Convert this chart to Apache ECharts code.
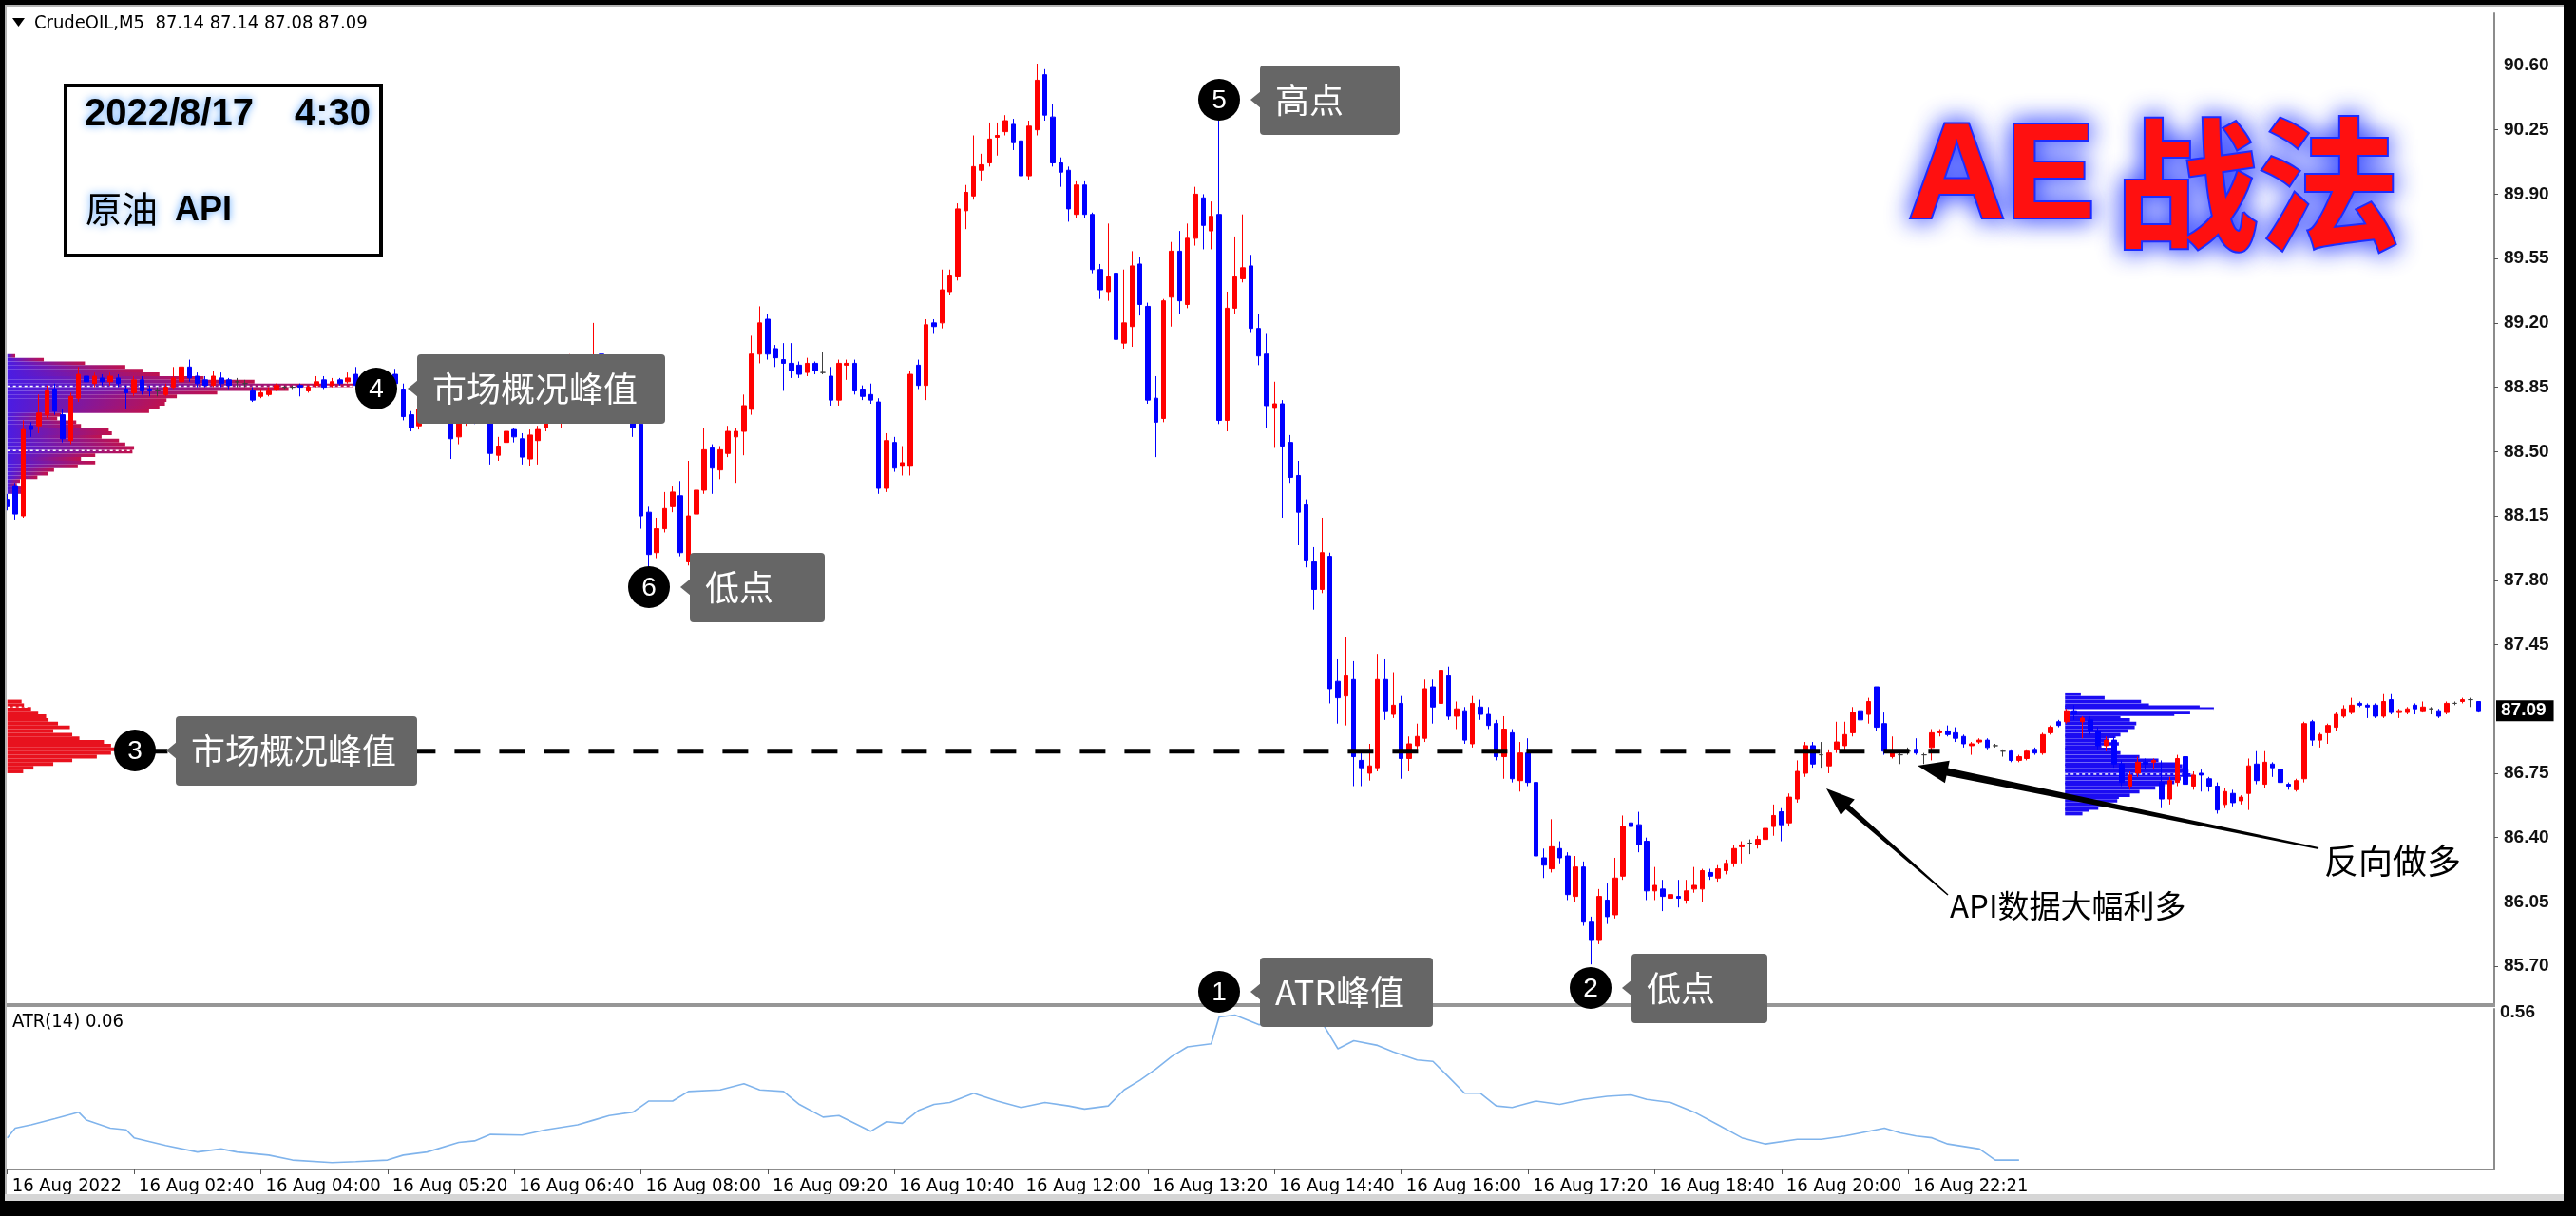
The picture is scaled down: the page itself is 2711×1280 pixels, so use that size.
<!DOCTYPE html>
<html><head><meta charset="utf-8">
<script src="https://cdn.jsdelivr.net/npm/echarts@6/dist/echarts.min.js"></script>
<style>html,body{margin:0;padding:0;background:#fff;overflow:hidden}#c{width:2711px;height:1280px}</style>
</head><body><div id="c"></div>
<script>
// ---------------- DATA ----------------
const symbolName = 'CrudeOIL,M5';
const timeLabels = ['16 Aug 2022','16 Aug 02:40','16 Aug 04:00','16 Aug 05:20','16 Aug 06:40','16 Aug 08:00','16 Aug 09:20','16 Aug 10:40','16 Aug 12:00','16 Aug 13:20','16 Aug 14:40','16 Aug 16:00','16 Aug 17:20','16 Aug 18:40','16 Aug 20:00','16 Aug 22:21'];
const labelStep = 16;
const slotCount = 315;
const priceTicks = [90.60,90.25,89.90,89.55,89.20,88.85,88.50,88.15,87.80,87.45,86.75,86.40,86.05,85.70];
const atrTicks = [0.56];
// candles: [open, close, low, high]
const candles = [
[88.24,88.20,88.18,88.27],[88.31,88.16,88.13,88.33],[88.15,88.62,88.14,88.67],[88.64,88.62,88.58,88.66],[88.64,88.71,88.60,88.81],
[88.70,88.83,88.68,88.86],[88.84,88.72,88.70,88.87],[88.70,88.57,88.55,88.73],[88.56,88.80,88.54,88.82],[88.79,88.92,88.77,88.96],
[88.91,88.88,88.86,88.93],[88.87,88.91,88.85,88.93],[88.90,88.88,88.86,88.92],[88.88,88.91,88.86,88.93],[88.90,88.87,88.85,88.92],
[88.84,88.82,88.73,88.86],[88.82,88.89,88.80,88.91],[88.89,88.83,88.81,88.91],[88.84,88.83,88.80,88.86],[88.83,88.83,88.80,88.85],
[88.81,88.85,88.80,88.87],[88.85,88.90,88.84,88.96],[88.88,88.96,88.86,88.98],[88.96,88.90,88.88,89.00],[88.91,88.87,88.85,88.93],
[88.89,88.86,88.85,88.91],[88.86,88.91,88.85,88.94],[88.90,88.87,88.85,88.93],[88.89,88.86,88.84,88.90],[88.88,88.88,88.85,88.90],
[88.87,88.87,88.85,88.89],[88.83,88.78,88.77,88.85],[88.80,88.82,88.79,88.84],[88.81,88.83,88.80,88.85],[88.84,88.86,88.83,88.87],
[88.85,88.85,88.84,88.86],[88.85,88.85,88.84,88.86],[88.86,88.85,88.80,88.87],[88.83,88.85,88.82,88.86],[88.86,88.88,88.85,88.91],
[88.89,88.85,88.84,88.91],[88.86,88.88,88.85,88.90],[88.89,88.87,88.86,88.90],[88.88,88.90,88.87,88.93],[88.92,88.86,88.85,88.96],
[88.86,88.89,88.85,88.91],[88.89,88.87,88.85,88.90],[88.87,88.90,88.86,88.92],[88.90,88.88,88.86,88.93],[88.92,88.87,88.85,88.95],
[88.84,88.69,88.67,88.87],[88.70,88.63,88.61,88.72],[88.64,88.73,88.62,88.76],[88.75,88.73,88.70,88.77],[88.75,88.80,88.74,88.84],
[88.81,88.69,88.67,88.83],[88.67,88.57,88.46,88.69],[88.58,88.67,88.54,88.69],[88.66,88.75,88.64,88.79],[88.75,88.69,88.65,88.77],
[88.69,88.70,88.67,88.72],[88.73,88.49,88.43,88.75],[88.48,88.53,88.45,88.58],[88.55,88.61,88.52,88.64],[88.62,88.58,88.55,88.63],
[88.57,88.47,88.43,88.60],[88.46,88.59,88.42,88.62],[88.56,88.62,88.43,88.64],[88.63,88.72,88.61,88.74],[88.70,88.78,88.68,88.80],
[88.74,88.90,88.63,88.92],[88.90,89.01,88.88,89.03],[88.98,88.89,88.87,89.02],[88.85,88.95,88.72,88.98],[88.90,89.01,88.88,89.20],
[89.03,88.94,88.92,89.05],[88.96,88.90,88.70,88.99],[88.76,88.72,88.68,88.80],[88.73,88.76,88.70,88.79],[88.78,88.63,88.58,88.80],
[88.65,88.15,88.08,88.67],[88.17,87.94,87.87,88.20],[87.95,88.08,87.92,88.14],[88.08,88.19,88.06,88.28],[88.20,88.28,88.17,88.31],
[88.26,87.95,87.93,88.34],[87.90,88.15,87.88,88.45],[88.16,88.29,88.10,88.31],[88.29,88.51,88.27,88.63],[88.52,88.41,88.27,88.54],
[88.40,88.51,88.35,88.53],[88.49,88.61,88.47,88.64],[88.58,88.61,88.33,88.63],[88.61,88.75,88.48,88.81],[88.73,89.03,88.70,89.13],
[89.03,89.20,88.98,89.29],[89.22,89.03,89.00,89.25],[89.06,89.01,88.96,89.08],[89.00,88.98,88.83,89.09],[88.98,88.94,88.90,89.09],
[88.97,88.92,88.90,88.99],[88.93,88.98,88.91,89.01],[88.98,88.94,88.92,88.99],[88.93,88.93,88.92,89.04],[88.91,88.78,88.75,88.96],
[88.78,88.98,88.75,89.00],[88.97,88.98,88.89,89.00],[88.98,88.83,88.81,89.00],[88.84,88.80,88.78,88.86],[88.81,88.78,88.76,88.87],
[88.77,88.30,88.27,88.79],[88.30,88.56,88.28,88.60],[88.55,88.41,88.39,88.58],[88.42,88.44,88.37,88.53],[88.42,88.92,88.37,88.94],
[88.97,88.86,88.84,89.00],[88.86,89.19,88.78,89.22],[89.20,89.18,89.14,89.22],[89.20,89.38,89.17,89.49],[89.37,89.46,89.35,89.49],
[89.45,89.82,89.43,89.85],[89.81,89.91,89.71,89.95],[89.89,90.05,89.87,90.22],[90.03,90.06,89.97,90.12],[90.07,90.20,90.05,90.29],
[90.21,90.22,90.11,90.29],[90.24,90.30,90.22,90.33],[90.28,90.18,90.14,90.31],[90.19,90.00,89.94,90.22],[90.00,90.27,89.98,90.30],
[90.25,90.52,90.22,90.61],[90.55,90.33,90.30,90.58],[90.32,90.07,90.05,90.39],[90.07,90.02,89.94,90.10],[90.03,89.82,89.75,90.05],
[89.79,89.95,89.77,89.97],[89.95,89.79,89.77,89.97],[89.79,89.49,89.47,89.80],[89.49,89.38,89.33,89.52],[89.37,89.45,89.32,89.74],
[89.47,89.11,89.07,89.72],[89.09,89.20,89.06,89.49],[89.18,89.51,89.07,89.59],[89.52,89.30,89.24,89.56],[89.29,88.78,88.76,89.31],
[88.79,88.66,88.47,88.91],[88.68,89.32,88.66,89.33],[89.34,89.59,89.18,89.64],[89.59,89.32,89.25,89.70],[89.30,89.66,89.28,89.74],
[89.66,89.90,89.62,89.94],[89.88,89.73,89.60,89.90],[89.70,89.78,89.60,89.86],[89.79,88.67,88.65,90.30],[88.67,89.28,88.61,89.37],
[89.28,89.45,89.25,89.67],[89.44,89.50,89.42,89.79],[89.51,89.17,89.15,89.57],[89.17,89.02,88.97,89.25],[89.03,88.75,88.63,89.14],
[88.74,88.76,88.52,88.88],[88.76,88.53,88.14,88.78],[88.55,88.36,88.33,88.59],[88.37,88.17,87.99,88.45],[88.21,87.91,87.87,88.24],
[87.90,87.75,87.64,87.98],[87.75,87.95,87.73,88.14],[87.93,87.21,87.13,87.95],[87.25,87.16,87.02,87.37],[87.17,87.28,87.01,87.49],
[87.26,86.84,86.68,87.36],[86.82,86.78,86.68,86.87],[86.75,86.79,86.71,86.91],[86.78,87.26,86.76,87.40],[87.26,87.09,87.04,87.37],
[87.07,87.12,87.05,87.30],[87.13,86.83,86.72,87.17],[86.83,86.91,86.76,86.95],[86.90,86.95,86.88,87.02],[86.94,87.21,86.92,87.26],
[87.22,87.11,87.02,87.26],[87.13,87.31,87.10,87.34],[87.28,87.06,87.04,87.33],[87.06,87.10,86.99,87.14],[87.09,86.93,86.91,87.11],
[86.91,87.13,86.89,87.17],[87.11,87.07,87.04,87.15],[87.07,87.01,86.99,87.11],[87.02,86.84,86.82,87.04],[86.84,86.99,86.72,87.06],
[86.97,86.72,86.70,86.99],[86.71,86.86,86.65,86.92],[86.86,86.70,86.68,86.94],[86.70,86.30,86.26,86.74],[86.29,86.25,86.18,86.34],
[86.23,86.35,86.21,86.50],[86.34,86.29,86.26,86.38],[86.30,86.09,86.06,86.32],[86.08,86.24,86.05,86.30],[86.24,85.94,85.92,86.27],
[85.94,85.84,85.71,85.97],[85.84,86.08,85.82,86.12],[86.06,85.97,85.93,86.15],[85.98,86.18,85.96,86.29],[86.19,86.46,86.17,86.52],
[86.48,86.46,86.36,86.64],[86.47,86.36,86.32,86.54],[86.38,86.11,86.06,86.40],[86.11,86.14,86.06,86.24],[86.12,86.08,86.00,86.17],
[86.07,86.09,86.01,86.11],[86.08,86.07,86.02,86.17],[86.06,86.11,86.04,86.17],[86.12,86.14,86.10,86.24],[86.12,86.22,86.05,86.23],
[86.21,86.19,86.17,86.23],[86.18,86.23,86.16,86.25],[86.22,86.26,86.20,86.28],[86.26,86.34,86.24,86.36],[86.35,86.36,86.26,86.38],
[86.37,86.37,86.31,86.39],[86.36,86.39,86.34,86.41],[86.39,86.45,86.37,86.46],[86.46,86.52,86.41,86.58],[86.54,86.47,86.38,86.56],
[86.48,86.62,86.46,86.64],[86.61,86.76,86.59,86.82],[86.75,86.90,86.73,86.92],[86.90,86.80,86.78,86.92],[86.85,86.85,86.78,86.92],
[86.79,86.86,86.75,86.88],[86.88,86.92,86.86,87.03],[86.90,86.96,86.88,87.03],[86.97,87.08,86.95,87.11],[87.09,87.04,86.98,87.11],
[87.07,87.14,87.02,87.16],[87.22,87.00,86.98,87.22],[87.02,86.87,86.85,87.08],[86.84,86.86,86.83,86.95],[86.85,86.85,86.80,86.86],
[86.87,86.87,86.85,86.89],[86.88,86.86,86.85,86.94],[86.85,86.85,86.80,86.86],[86.89,86.97,86.82,86.99],[86.97,86.98,86.95,86.99],
[86.98,86.96,86.95,87.01],[86.97,86.94,86.92,87.00],[86.95,86.91,86.89,86.96],[86.90,86.91,86.85,86.92],[86.92,86.93,86.91,86.94],
[86.93,86.89,86.88,86.94],[86.90,86.90,86.89,86.91],[86.87,86.87,86.84,86.88],[86.87,86.82,86.81,86.88],[86.82,86.84,86.81,86.85],
[86.83,86.87,86.82,86.88],[86.88,86.86,86.85,86.89],[86.86,86.96,86.85,86.97],[86.97,87.00,86.96,87.01],[87.03,87.01,87.00,87.04],
[87.03,87.09,87.02,87.10],[87.09,87.07,87.04,87.12],[87.03,87.05,86.94,87.06],[87.04,86.98,86.96,87.06],[86.98,86.90,86.88,87.00],
[86.90,86.93,86.87,86.95],[86.93,86.80,86.78,86.95],[86.80,86.70,86.68,86.82],[86.68,86.74,86.66,86.76],[86.75,86.81,86.73,86.84],
[86.81,86.80,86.77,86.83],[86.81,86.82,86.77,86.83],[86.70,86.61,86.56,86.82],[86.61,86.71,86.58,86.73],[86.70,86.83,86.68,86.85],
[86.84,86.69,86.66,86.86],[86.68,86.74,86.66,86.76],[86.75,86.74,86.65,86.77],[86.72,86.68,86.65,86.73],[86.68,86.55,86.53,86.70],
[86.58,86.65,86.56,86.67],[86.64,86.59,86.57,86.66],[86.60,86.62,86.58,86.63],[86.64,86.79,86.55,86.83],[86.80,86.71,86.69,86.87],
[86.69,86.81,86.67,86.87],[86.80,86.78,86.73,86.81],[86.77,86.70,86.68,86.78],[86.69,86.68,86.66,86.70],[86.66,86.71,86.65,86.72],
[86.72,87.02,86.70,87.03],[87.03,86.93,86.90,87.04],[86.93,86.96,86.89,86.97],[86.97,87.01,86.91,87.02],[87.00,87.07,86.98,87.08],
[87.06,87.10,87.05,87.12],[87.08,87.12,87.07,87.16],[87.13,87.12,87.11,87.14],[87.12,87.11,87.05,87.13],[87.12,87.06,87.05,87.13],
[87.06,87.14,87.05,87.18],[87.15,87.08,87.07,87.18],[87.08,87.09,87.05,87.10],[87.08,87.10,87.07,87.11],[87.12,87.10,87.07,87.13],
[87.09,87.11,87.08,87.14],[87.10,87.10,87.07,87.11],[87.09,87.06,87.05,87.10],[87.08,87.13,87.07,87.14],[87.13,87.13,87.12,87.14],
[87.14,87.15,87.13,87.16],[87.15,87.15,87.11,87.16],[87.14,87.09,87.08,87.14]
];
// ATR(14) line, read at [bar index, value]
const atrPoints = [[0,0.156],[1,0.187],[3,0.198],[6,0.218],[9,0.239],[10,0.213],[13,0.187],[15,0.182],[16,0.156],[20,0.131],[24,0.110],[27,0.120],[29,0.110],[33,0.100],[36,0.084],[41,0.076],[44,0.079],[48,0.084],[50,0.100],[53,0.110],[57,0.141],[59,0.146],[61,0.167],[65,0.165],[68,0.182],[72,0.198],[74,0.213],[76,0.228],[79,0.239],[81,0.275],[84,0.275],[86,0.306],[90,0.311],[93,0.331],[95,0.311],[98,0.306],[100,0.264],[103,0.223],[105,0.228],[109,0.177],[111,0.208],[113,0.203],[115,0.244],[117,0.264],[119,0.270],[122,0.300],[125,0.275],[128,0.254],[131,0.270],[134,0.259],[136,0.249],[139,0.259],[141,0.311],[143,0.342],[145,0.378],[147,0.419],[149,0.450],[152,0.460],[153,0.547],[155,0.553],[158,0.522],[160,0.527],[163,0.527],[166,0.529],[168,0.444],[170,0.470],[173,0.455],[175,0.434],[178,0.408],[180,0.403],[182,0.352],[184,0.300],[186,0.300],[188,0.259],[190,0.254],[193,0.275],[196,0.264],[199,0.280],[202,0.290],[205,0.295],[207,0.280],[210,0.270],[213,0.239],[216,0.198],[219,0.156],[222,0.136],[226,0.151],[229,0.151],[232,0.162],[234,0.172],[237,0.187],[239,0.172],[241,0.162],[243,0.156],[245,0.136],[249,0.120],[251,0.084],[254,0.084]];
// market profile histograms
const profileAPrices = [89.02,89.00,88.98,88.96,88.94,88.92,88.90,88.88,88.86,88.84,88.82,88.80,88.78,88.76,88.74,88.72,88.70,88.68,88.66,88.64,88.62,88.60,88.58,88.56,88.54,88.52,88.50,88.48,88.46,88.44,88.42,88.40,88.38,88.36,88.34,88.32,88.30,88.28];
const profileALens = [1.0,4.6,9.8,14.9,17.1,19.2,24.8,31.2,43.6,35.5,26.5,21.4,20.1,19.9,19.2,17.9,6.8,6.3,8.7,9.3,12.8,13.2,11.9,14.1,14.9,16.0,15.8,11.1,9.3,11.1,8.9,5.9,5.1,3.8,1.6,1.2,2.1,2.1];
const profileBPrices = [87.14,87.12,87.10,87.08,87.06,87.04,87.02,87.00,86.98,86.96,86.94,86.92,86.90,86.88,86.86,86.84,86.82,86.80,86.78,86.76];
const profileBLens = [1.8,2.1,3.0,3.9,4.9,5.2,6.4,7.9,5.8,8.2,9.1,12.2,13.1,14.0,13.1,11.3,8.2,5.8,3.3,2.0];
const profileCPrices = [87.18,87.16,87.14,87.12,87.11,87.10,87.08,87.07,87.05,87.04,87.02,87.00,86.98,86.96,86.95,86.93,86.91,86.89,86.88,86.86,86.84,86.82,86.80,86.79,86.77,86.76,86.74,86.72,86.70,86.69,86.67,86.65,86.63,86.62,86.60,86.58,86.56,86.55,86.53];
const profileCLens = [2.0,5.0,9.6,10.6,17.0,18.8,15.8,13.8,7.0,8.2,9.0,8.8,8.0,7.0,6.4,5.6,6.8,4.6,6.0,7.0,9.4,11.8,14.2,14.8,15.4,15.6,16.2,14.6,13.8,12.6,11.4,9.4,8.2,6.8,6.6,5.4,4.2,3.0,2.2];
const profileCStart = 259.8;
// profile POC lines: [start bar, price, length in bars, dotted]
const pocLines = [[0,88.855,43.6,1],[0,88.505,16,1],[0,87.11,2.6,1],[259.8,87.095,18.8,0],[259.8,86.745,16.2,1]];
const peakLevel = 86.87, peakFrom = 17, peakTo = 244;
const lastLabelIndex = 240;

// ---------------- CHART ----------------
const FONT_UI = "'Liberation Sans Narrow','DejaVu Sans Condensed','Liberation Sans',sans-serif";
const FONT_AX = "'Liberation Sans','DejaVu Sans',sans-serif";
const CJK = "'Noto Sans CJK SC','Noto Sans',sans-serif";
const cats = Array.from({length: slotCount}, (_, i) => String(i));
const last = candles[candles.length - 1];

function profileSeries(prices, lens, start, binH, fillFn) {
  const base = Math.floor(start), frac = start - base;
  return {
    type: 'custom', xAxisIndex: 0, yAxisIndex: 0, z: 1, silent: true, clip: true,
    data: prices.map((p, k) => [base, p, lens[k]]),
    encode: {x: 0, y: 1},
    renderItem: (params, api) => {
      const p = api.value(1), len = api.value(2);
      const bw = api.size([1, 0])[0];
      const a = api.coord([base, p + binH / 2]);
      const b = api.coord([base, p - binH / 2]);
      return {type: 'rect', shape: {x: a[0] + frac * bw, y: a[1], width: len * bw, height: b[1] - a[1]}, style: {fill: fillFn()}};
    }
  };
}
const pocSeries = {
  type: 'custom', xAxisIndex: 0, yAxisIndex: 0, z: 2, silent: true,
  data: pocLines.map(d => [Math.floor(d[0]), d[1], d[2], d[3], d[0] - Math.floor(d[0])]),
  encode: {x: 0, y: 1},
  renderItem: (params, api) => {
    const bw = api.size([1, 0])[0];
    const pt = api.coord([api.value(0), api.value(1)]);
    const x = pt[0] + api.value(4) * bw;
    return {type: 'line', shape: {x1: x, y1: pt[1], x2: x + api.value(2) * bw, y2: pt[1]},
      style: {stroke: '#fff', lineWidth: 1.5, lineDash: api.value(3) ? [3, 3] : null}};
  }
};

function marker(n, cx, cy, label, boxW) {
  const bx = cx + 43, by = cy - 36;
  return [
    {type: 'rect', z: 50, shape: {x: bx, y: by, width: boxW, height: 73, r: 4}, style: {fill: '#666'}},
    {type: 'polygon', z: 50, shape: {points: [[bx + 1, cy - 9], [bx - 10, cy], [bx + 1, cy + 9]]}, style: {fill: '#666'}},
    {type: 'circle', z: 51, shape: {cx: cx, cy: cy, r: 22}, style: {fill: '#000'}},
    {type: 'text', z: 52, x: cx, y: cy + 1, style: {text: String(n), fill: '#fff', font: '28px ' + FONT_AX, align: 'center', verticalAlign: 'middle'}},
    {type: 'text', z: 52, x: bx + 16, y: cy, style: {text: label, fill: '#fff', font: '36px ' + CJK, align: 'left', verticalAlign: 'middle'}}
  ];
}
function arrow(x1, y1, x2, y2, w1, w2, hl, hw) {
  const dx = x2 - x1, dy = y2 - y1, L = Math.hypot(dx, dy), ux = dx / L, uy = dy / L, nx = -uy, ny = ux;
  const bx = x2 - ux * hl, by = y2 - uy * hl;
  return {type: 'polygon', z: 40, shape: {points: [
    [x1 + nx * w1 / 2, y1 + ny * w1 / 2], [bx + nx * w2 / 2, by + ny * w2 / 2], [bx + nx * hw / 2, by + ny * hw / 2], [x2, y2],
    [bx - nx * hw / 2, by - ny * hw / 2], [bx - nx * w2 / 2, by - ny * w2 / 2], [x1 - nx * w1 / 2, y1 - ny * w1 / 2]]},
    style: {fill: '#000'}};
}

const glow = {textShadowColor: 'rgba(80,160,255,0.95)', textShadowBlur: 8};
const graphics = [].concat(
  [{type: 'polygon', z: 60, shape: {points: [[13, 19], [26, 19], [19.5, 28]]}, style: {fill: '#000'}},
   {type: 'text', z: 60, x: 36, y: 25, style: {text: symbolName + '  ' + [last[0], last[3], last[2], last[1]].map(v => v.toFixed(2)).join(' '), fill: '#000', font: '20px ' + FONT_UI, verticalAlign: 'middle'}},
   {type: 'text', z: 60, x: 13, y: 1076, style: {text: 'ATR(14) 0.06', fill: '#000', font: '20px ' + FONT_UI, verticalAlign: 'middle'}}],
  [{type: 'rect', z: 45, shape: {x: 69, y: 90, width: 332, height: 179}, style: {fill: '#fff', stroke: '#000', lineWidth: 4}},
   {type: 'text', z: 46, x: 89, y: 121, style: Object.assign({text: '2022/8/17', fill: '#000', font: 'bold 40px ' + FONT_AX, verticalAlign: 'middle'}, glow)},
   {type: 'text', z: 46, x: 390, y: 121, style: Object.assign({text: '4:30', fill: '#000', font: 'bold 40px ' + FONT_AX, align: 'right', verticalAlign: 'middle'}, glow)},
   {type: 'text', z: 46, x: 90, y: 220, style: Object.assign({text: '原油', fill: '#000', font: '38px ' + CJK, verticalAlign: 'middle'}, glow)},
   {type: 'text', z: 46, x: 184, y: 222, style: Object.assign({text: 'API', fill: '#000', font: 'bold 36px ' + FONT_AX, verticalAlign: 'middle'}, glow)}],
  [{type: 'text', z: 46, x: 2008, y: 190, style: {text: 'AE', fill: '#ff1010', font: 'bold 142px ' + FONT_AX, verticalAlign: 'middle', stroke: '#1f2cff', lineWidth: 4, textShadowColor: '#1a30ff', textShadowBlur: 26}},
   {type: 'text', z: 46, x: 2226, y: 194, style: {text: '战法', fill: '#ff1010', font: 'bold 150px ' + CJK, verticalAlign: 'middle', stroke: '#1f2cff', lineWidth: 4, textShadowColor: '#1a30ff', textShadowBlur: 26}}],
  marker(5, 1283, 105, '高点', 147),
  marker(4, 396, 409, '市场概况峰值', 261),
  marker(6, 683, 618, '低点', 142),
  marker(3, 142, 790, '市场概况峰值', 254),
  marker(1, 1283, 1044, 'ATR峰值', 182),
  marker(2, 1674, 1040, '低点', 143),
  [arrow(2050, 942, 1922, 830, 1.5, 6, 30, 22),
   arrow(2440, 893, 2018, 806, 2, 8, 32, 24),
   {type: 'text', z: 46, x: 2052, y: 953, style: {text: 'API数据大幅利多', fill: '#000', font: '33px ' + CJK, verticalAlign: 'middle'}},
   {type: 'text', z: 46, x: 2446, y: 906, style: {text: '反向做多', fill: '#000', font: '36px ' + CJK, verticalAlign: 'middle'}}],
  [{type: 'rect', z: 30, shape: {x: 6, y: 1056, width: 2620, height: 4}, style: {fill: '#969696'}},
   {type: 'rect', z: 70, shape: {x: 0, y: 0, width: 2711, height: 5}, style: {fill: '#000'}},
   {type: 'rect', z: 70, shape: {x: 0, y: 0, width: 5, height: 1280}, style: {fill: '#000'}},
   {type: 'rect', z: 70, shape: {x: 2698, y: 0, width: 13, height: 1280}, style: {fill: '#000'}},
   {type: 'rect', z: 70, shape: {x: 0, y: 1264, width: 2711, height: 16}, style: {fill: '#000'}},
   {type: 'rect', z: 69, shape: {x: 5, y: 1257, width: 2693, height: 7}, style: {fill: '#d6d6d6'}},
   {type: 'rect', z: 69, shape: {x: 5, y: 5, width: 2693, height: 2}, style: {fill: '#b4b4b4'}},
   {type: 'rect', z: 69, shape: {x: 5, y: 5, width: 2, height: 1252}, style: {fill: '#b4b4b4'}}]
);

const chart = echarts.init(document.getElementById('c'), null, {renderer: 'canvas', width: 2711, height: 1280});
chart.setOption({
  animation: false,
  backgroundColor: '#fff',
  grid: [{left: 7.7, right: 86, top: 14, height: 1043}, {left: 7.7, right: 86, top: 1062, height: 169}],
  xAxis: [
    {type: 'category', gridIndex: 0, data: cats, boundaryGap: false, show: false},
    {type: 'category', gridIndex: 1, data: cats, boundaryGap: false,
     axisLine: {show: true, lineStyle: {color: '#8c8c8c', width: 2}},
     axisTick: {show: true, interval: (idx) => idx % labelStep === 0 && idx <= lastLabelIndex, length: 5, lineStyle: {color: '#555'}},
     axisLabel: {interval: labelStep - 1, align: 'left', margin: 8, padding: [0, 0, 0, 5], fontFamily: FONT_UI, fontSize: 20, color: '#000',
       formatter: (v, idx) => timeLabels[idx / labelStep] || ''},
     splitLine: {show: false}}
  ],
  yAxis: [
    {type: 'value', gridIndex: 0, position: 'right', min: 85.494, max: 90.884,
     axisLine: {show: true, lineStyle: {color: '#8c8c8c', width: 2}},
     axisTick: {show: true, length: 4, customValues: priceTicks, lineStyle: {color: '#555'}},
     axisLabel: {customValues: priceTicks, margin: 10, formatter: v => v.toFixed(2), fontFamily: FONT_AX, fontWeight: 'bold', fontSize: 19, color: '#111'},
     splitLine: {show: false}},
    {type: 'value', gridIndex: 1, position: 'right', min: 0.0535, max: 0.573,
     axisLine: {show: true, lineStyle: {color: '#8c8c8c', width: 2}},
     axisTick: {show: false},
     axisLabel: {customValues: atrTicks, margin: 6, formatter: v => v.toFixed(2), fontFamily: FONT_AX, fontWeight: 'bold', fontSize: 19, color: '#111'},
     splitLine: {show: false}}
  ],
  graphic: {elements: graphics},
  series: [
    profileSeries(profileAPrices, profileALens, 0, 0.02, () => new echarts.graphic.LinearGradient(0, 0, 1, 0, [{offset: 0, color: '#4a1ce4'}, {offset: 1, color: '#c0124e'}])),
    profileSeries(profileBPrices, profileBLens, 0, 0.02, () => '#e8121e'),
    profileSeries(profileCPrices, profileCLens, profileCStart, 0.019, () => '#1c0cf2'),
    pocSeries,
    {type: 'candlestick', xAxisIndex: 0, yAxisIndex: 0, z: 3, data: candles, barWidth: 5, silent: true,
     itemStyle: {color: '#ff0000', color0: '#0000ff', borderColor: '#ff0000', borderColor0: '#0000ff', borderColorDoji: '#404040', borderWidth: 1},
     markLine: {symbol: 'none', silent: true, animation: false, data: [{yAxis: last[1]}],
       lineStyle: {color: 'rgba(0,0,0,0)'},
       label: {show: true, position: 'end', distance: 2, formatter: last[1].toFixed(2), backgroundColor: '#000', color: '#fff',
         fontFamily: FONT_AX, fontWeight: 'bold', fontSize: 19, padding: [2, 8, 1, 5]}}},
    {type: 'line', xAxisIndex: 0, yAxisIndex: 0, z: 4, silent: true, symbol: 'none',
     data: [[peakFrom, peakLevel], [peakTo, peakLevel]], lineStyle: {color: '#000', width: 5, type: [27, 20]}},
    {type: 'line', xAxisIndex: 1, yAxisIndex: 1, silent: true, symbol: 'none', data: atrPoints,
     lineStyle: {color: '#80b4ec', width: 1.6}}
  ]
});
</script>
</body></html>
